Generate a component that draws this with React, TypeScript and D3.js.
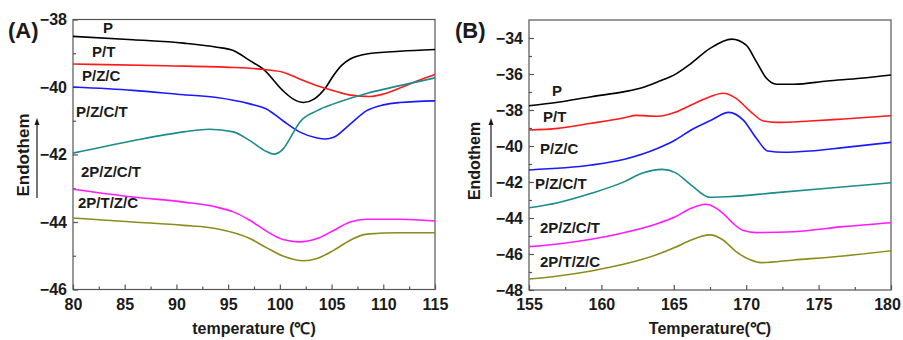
import { useEffect, useRef } from 'react';
import * as d3 from 'd3';

type Pt = [number, number];

// ---- Panel A: 80-115 °C ----
const aP: Pt[] = [[80, -38.5], [85.8, -38.6], [90.7, -38.7], [93.9, -38.82], [95.5, -38.92], [97.1, -39.22], [98.4, -39.47], [100.3, -40.11], [101.3, -40.36], [102.3, -40.46], [103.3, -40.36], [104.4, -40.03], [105.2, -39.65], [106.0, -39.35], [106.8, -39.17], [108.4, -39.02], [111.6, -38.94], [115, -38.89]];
const aPT: Pt[] = [[80, -39.32], [89, -39.37], [95.5, -39.42], [98.7, -39.49], [100.3, -39.56], [101.9, -39.76], [103.6, -39.96], [105.2, -40.11], [106.8, -40.24], [108.7, -40.28], [110, -40.21], [111.6, -40.03], [113.2, -39.83], [115, -39.63]];
const aPZC: Pt[] = [[80, -40], [85.8, -40.1], [90.7, -40.23], [93.9, -40.31], [97.1, -40.5], [98.7, -40.65], [100.3, -41.0], [101.9, -41.33], [103.6, -41.51], [104.4, -41.54], [105.2, -41.49], [106.8, -41.1], [108.4, -40.7], [110, -40.53], [111.6, -40.46], [115, -40.41]];
const aPZCT: Pt[] = [[80, -41.96], [85.8, -41.59], [90.7, -41.33], [93.2, -41.25], [95.5, -41.33], [97.1, -41.59], [98.7, -41.91], [99.4, -41.99], [100.3, -41.84], [101.3, -41.35], [101.9, -41.05], [103.6, -40.7], [105.2, -40.5], [108.4, -40.19], [111.6, -39.96], [115, -39.73]];
const a2PZCT: Pt[] = [[80, -43.03], [85.8, -43.26], [90.7, -43.41], [93.9, -43.56], [95.5, -43.7], [97.1, -43.95], [98.7, -44.27], [100.3, -44.52], [101.9, -44.59], [103.6, -44.49], [105.2, -44.25], [106.8, -44.0], [108.4, -43.92], [111.6, -43.92], [115, -43.97]];
const a2PTZC: Pt[] = [[80, -43.88], [85.8, -44.0], [90.7, -44.1], [93.9, -44.2], [97.1, -44.49], [98.7, -44.76], [100.3, -45.01], [102.3, -45.15], [103.6, -45.08], [105.2, -44.84], [106.8, -44.54], [108.4, -44.36], [111.6, -44.32], [115, -44.32]];

// ---- Panel B: 155-180 °C ----
const bP: Pt[] = [[155, -37.76], [157, -37.57], [159.3, -37.26], [161.6, -36.98], [162.8, -36.76], [163.9, -36.43], [165.1, -36.02], [166.2, -35.41], [167.5, -34.58], [169.0, -34.06], [170.0, -34.39], [170.7, -35.31], [171.4, -36.24], [172.1, -36.57], [173.3, -36.57], [175.6, -36.39], [177.9, -36.24], [180, -36.06]];
const bPT: Pt[] = [[155, -39.11], [157, -39.02], [159.3, -38.74], [161.6, -38.43], [162.4, -38.3], [163.9, -38.35], [165.1, -38.13], [166.2, -37.72], [167.5, -37.26], [168.4, -37.07], [169.3, -37.35], [170.3, -38.09], [171.2, -38.61], [172.1, -38.69], [174.4, -38.61], [176.7, -38.5], [180, -38.32]];
const bPZC: Pt[] = [[155, -41.33], [159.3, -41.06], [161.6, -40.74], [163.9, -40.13], [165.1, -39.67], [166.2, -39.11], [167.5, -38.6], [168.8, -38.13], [169.8, -38.56], [170.7, -39.57], [171.5, -40.28], [172.6, -40.35], [174.4, -40.28], [176.7, -40.09], [180, -39.8]];
const bPZCT: Pt[] = [[155, -43.43], [157, -43.15], [159.3, -42.63], [161.6, -41.98], [162.8, -41.52], [164.2, -41.3], [165.1, -41.48], [166.2, -42.17], [167.5, -42.85], [168.7, -42.82], [172.1, -42.59], [175.6, -42.35], [180, -42.04]];
const b2PZCT: Pt[] = [[155, -45.59], [157, -45.44], [159.3, -45.18], [161.6, -44.81], [163.9, -44.3], [165.1, -43.93], [166.2, -43.46], [167.2, -43.24], [168.4, -43.74], [169.1, -44.3], [169.8, -44.7], [170.7, -44.81], [173.3, -44.76], [176.7, -44.48], [180, -44.26]];
const b2PTZC: Pt[] = [[155, -47.39], [157, -47.22], [159.3, -46.94], [161.6, -46.56], [163.9, -46.02], [165.1, -45.63], [166.2, -45.22], [167.5, -44.94], [168.4, -45.22], [169.3, -45.87], [170.3, -46.33], [171.0, -46.48], [173.3, -46.33], [176.7, -46.11], [180, -45.82]];

const seriesNames = ['P', 'P/T', 'P/Z/C', 'P/Z/C/T', '2P/Z/C/T', '2P/T/Z/C'];
const seriesColors = ['#000000', '#ff1a1a', '#1a1aff', '#1a8c8c', '#ff1aff', '#8c8c1a'];

const FONT = '"Liberation Sans", Arial, sans-serif';

interface PanelProps {
  tag: string;
  tagX: number;
  series: Pt[][];
  xDomain: [number, number];
  yDomain: [number, number];
  xTicks: number[];
  yTicks: number[];
  left: number;
  right: number;
  top: number;
  bottom: number;
  xTitle: string;
  labelPos: Pt[];
  yTitleX: number;
  yTitleY: number;
  yTitleSize: number;
  arrowX: number;
  arrowY: [number, number];
}

function drawPanel(svg: d3.Selection<SVGSVGElement, unknown, null, undefined>, p: PanelProps) {
  const x = d3.scaleLinear().domain(p.xDomain).range([p.left, p.right]);
  const y = d3.scaleLinear().domain(p.yDomain).range([p.bottom, p.top]);
  const g = svg.append('g');

  // frame
  g.append('rect')
    .attr('x', p.left)
    .attr('y', p.top)
    .attr('width', p.right - p.left)
    .attr('height', p.bottom - p.top)
    .attr('fill', 'none')
    .attr('stroke', '#555')
    .attr('stroke-width', 1.2);

  const xStep = p.xTicks[1] - p.xTicks[0];
  const yStep = p.yTicks[1] - p.yTicks[0];
  const xMinor = p.xTicks.slice(0, -1).map((t) => t + xStep / 2);
  const yMinor = d3.range(p.yDomain[0] + yStep / 2, p.yDomain[1], yStep);

  const styleAxis = (a: d3.Selection<SVGGElement, unknown, null, undefined>) => {
    a.select('.domain').remove();
    a.selectAll('.tick line').attr('stroke', '#555').attr('stroke-width', 1.2);
    a.selectAll('text')
      .attr('fill', '#1a1a1a')
      .attr('font-size', 16)
      .attr('font-weight', 'bold')
      .attr('font-family', FONT);
  };

  const xAxis = g
    .append('g')
    .attr('transform', `translate(0,${p.bottom})`)
    .call(d3.axisBottom(x).tickValues(p.xTicks).tickSize(-5).tickPadding(9).tickFormat(d3.format('d')))
    .call(styleAxis);
  // keep the last label inside the page
  xAxis.selectAll<SVGTextElement, number>('text').filter((d) => d === 180).attr('dx', -4);

  g.append('g')
    .attr('transform', `translate(0,${p.bottom})`)
    .call(d3.axisBottom(x).tickValues(xMinor).tickSize(-3).tickFormat(() => ''))
    .call(styleAxis);
  g.append('g')
    .attr('transform', `translate(${p.left},0)`)
    .call(d3.axisLeft(y).tickValues(p.yTicks).tickSize(-5).tickPadding(6).tickFormat(d3.format('d')))
    .call(styleAxis);
  g.append('g')
    .attr('transform', `translate(${p.left},0)`)
    .call(d3.axisLeft(y).tickValues(yMinor).tickSize(-3).tickFormat(() => ''))
    .call(styleAxis);

  // curves
  const line = d3
    .line<Pt>()
    .x((d) => x(d[0]))
    .y((d) => y(d[1]))
    .curve(d3.curveMonotoneX);

  p.series.forEach((s, i) => {
    g.append('path')
      .attr('d', line(s) || '')
      .attr('fill', 'none')
      .attr('stroke', seriesColors[i])
      .attr('stroke-width', 1.6);
  });

  // curve labels
  seriesNames.forEach((name, i) => {
    g.append('text')
      .attr('x', p.labelPos[i][0])
      .attr('y', p.labelPos[i][1])
      .attr('font-family', FONT)
      .attr('font-weight', 'bold')
      .attr('font-size', 15)
      .attr('fill', '#1a1a1a')
      .text(name);
  });

  // panel tag
  g.append('text')
    .attr('x', p.tagX)
    .attr('y', 38)
    .attr('font-family', FONT)
    .attr('font-weight', 'bold')
    .attr('font-size', 22)
    .attr('fill', '#1a1a1a')
    .text(p.tag);

  // x title
  g.append('text')
    .attr('x', (p.left + p.right) / 2)
    .attr('y', 334)
    .attr('text-anchor', 'middle')
    .attr('font-family', FONT)
    .attr('font-weight', 'bold')
    .attr('font-size', 16)
    .attr('fill', '#1a1a1a')
    .text(p.xTitle);

  // y title + arrow
  g.append('text')
    .attr('transform', `translate(${p.yTitleX},${p.yTitleY}) rotate(-90)`)
    .attr('text-anchor', 'middle')
    .attr('font-family', FONT)
    .attr('font-weight', 'bold')
    .attr('font-size', p.yTitleSize)
    .attr('fill', '#1a1a1a')
    .text('Endothem');

  g.append('line')
    .attr('x1', p.arrowX)
    .attr('x2', p.arrowX)
    .attr('y1', p.arrowY[0])
    .attr('y2', p.arrowY[1] + 6)
    .attr('stroke', '#1a1a1a')
    .attr('stroke-width', 1.2);
  g.append('path')
    .attr('d', `M${p.arrowX},${p.arrowY[1]} l-2.5,7 l5,0 z`)
    .attr('fill', '#1a1a1a');
}

export default function App() {
  const svgRef = useRef<SVGSVGElement>(null);

  useEffect(() => {
    if (!svgRef.current) return;
    const svg = d3.select(svgRef.current);
    svg.selectAll('*').remove();

    drawPanel(svg, {
      tag: '(A)',
      tagX: 8,
      series: [aP, aPT, aPZC, aPZCT, a2PZCT, a2PTZC],
      xDomain: [80, 115],
      yDomain: [-46, -38],
      xTicks: [80, 85, 90, 95, 100, 105, 110, 115],
      yTicks: [-46, -44, -42, -40, -38],
      left: 73,
      right: 435,
      top: 19.5,
      bottom: 289.5,
      xTitle: 'temperature (℃)',
      labelPos: [[103, 33], [92, 57], [82, 81], [76, 117], [81, 177], [78, 208]],
      yTitleX: 29,
      yTitleY: 155,
      yTitleSize: 17,
      arrowX: 37,
      arrowY: [198, 118],
    });

    drawPanel(svg, {
      tag: '(B)',
      tagX: 455,
      series: [bP, bPT, bPZC, bPZCT, b2PZCT, b2PTZC],
      xDomain: [155, 180],
      yDomain: [-48, -33],
      xTicks: [155, 160, 165, 170, 175, 180],
      yTicks: [-48, -46, -44, -42, -40, -38, -36, -34],
      left: 529,
      right: 891,
      top: 20,
      bottom: 290,
      xTitle: 'Temperature(℃)',
      labelPos: [[552, 96], [543, 122], [540, 154], [535, 189], [540, 233], [540, 267]],
      yTitleX: 480,
      yTitleY: 161,
      yTitleSize: 16,
      arrowX: 491,
      arrowY: [197, 118],
    });
  }, []);

  return (
    <svg
      ref={svgRef}
      width={903}
      height={340}
      style={{ position: 'absolute', left: 0, top: 0, background: '#fff' }}
    />
  );
}
